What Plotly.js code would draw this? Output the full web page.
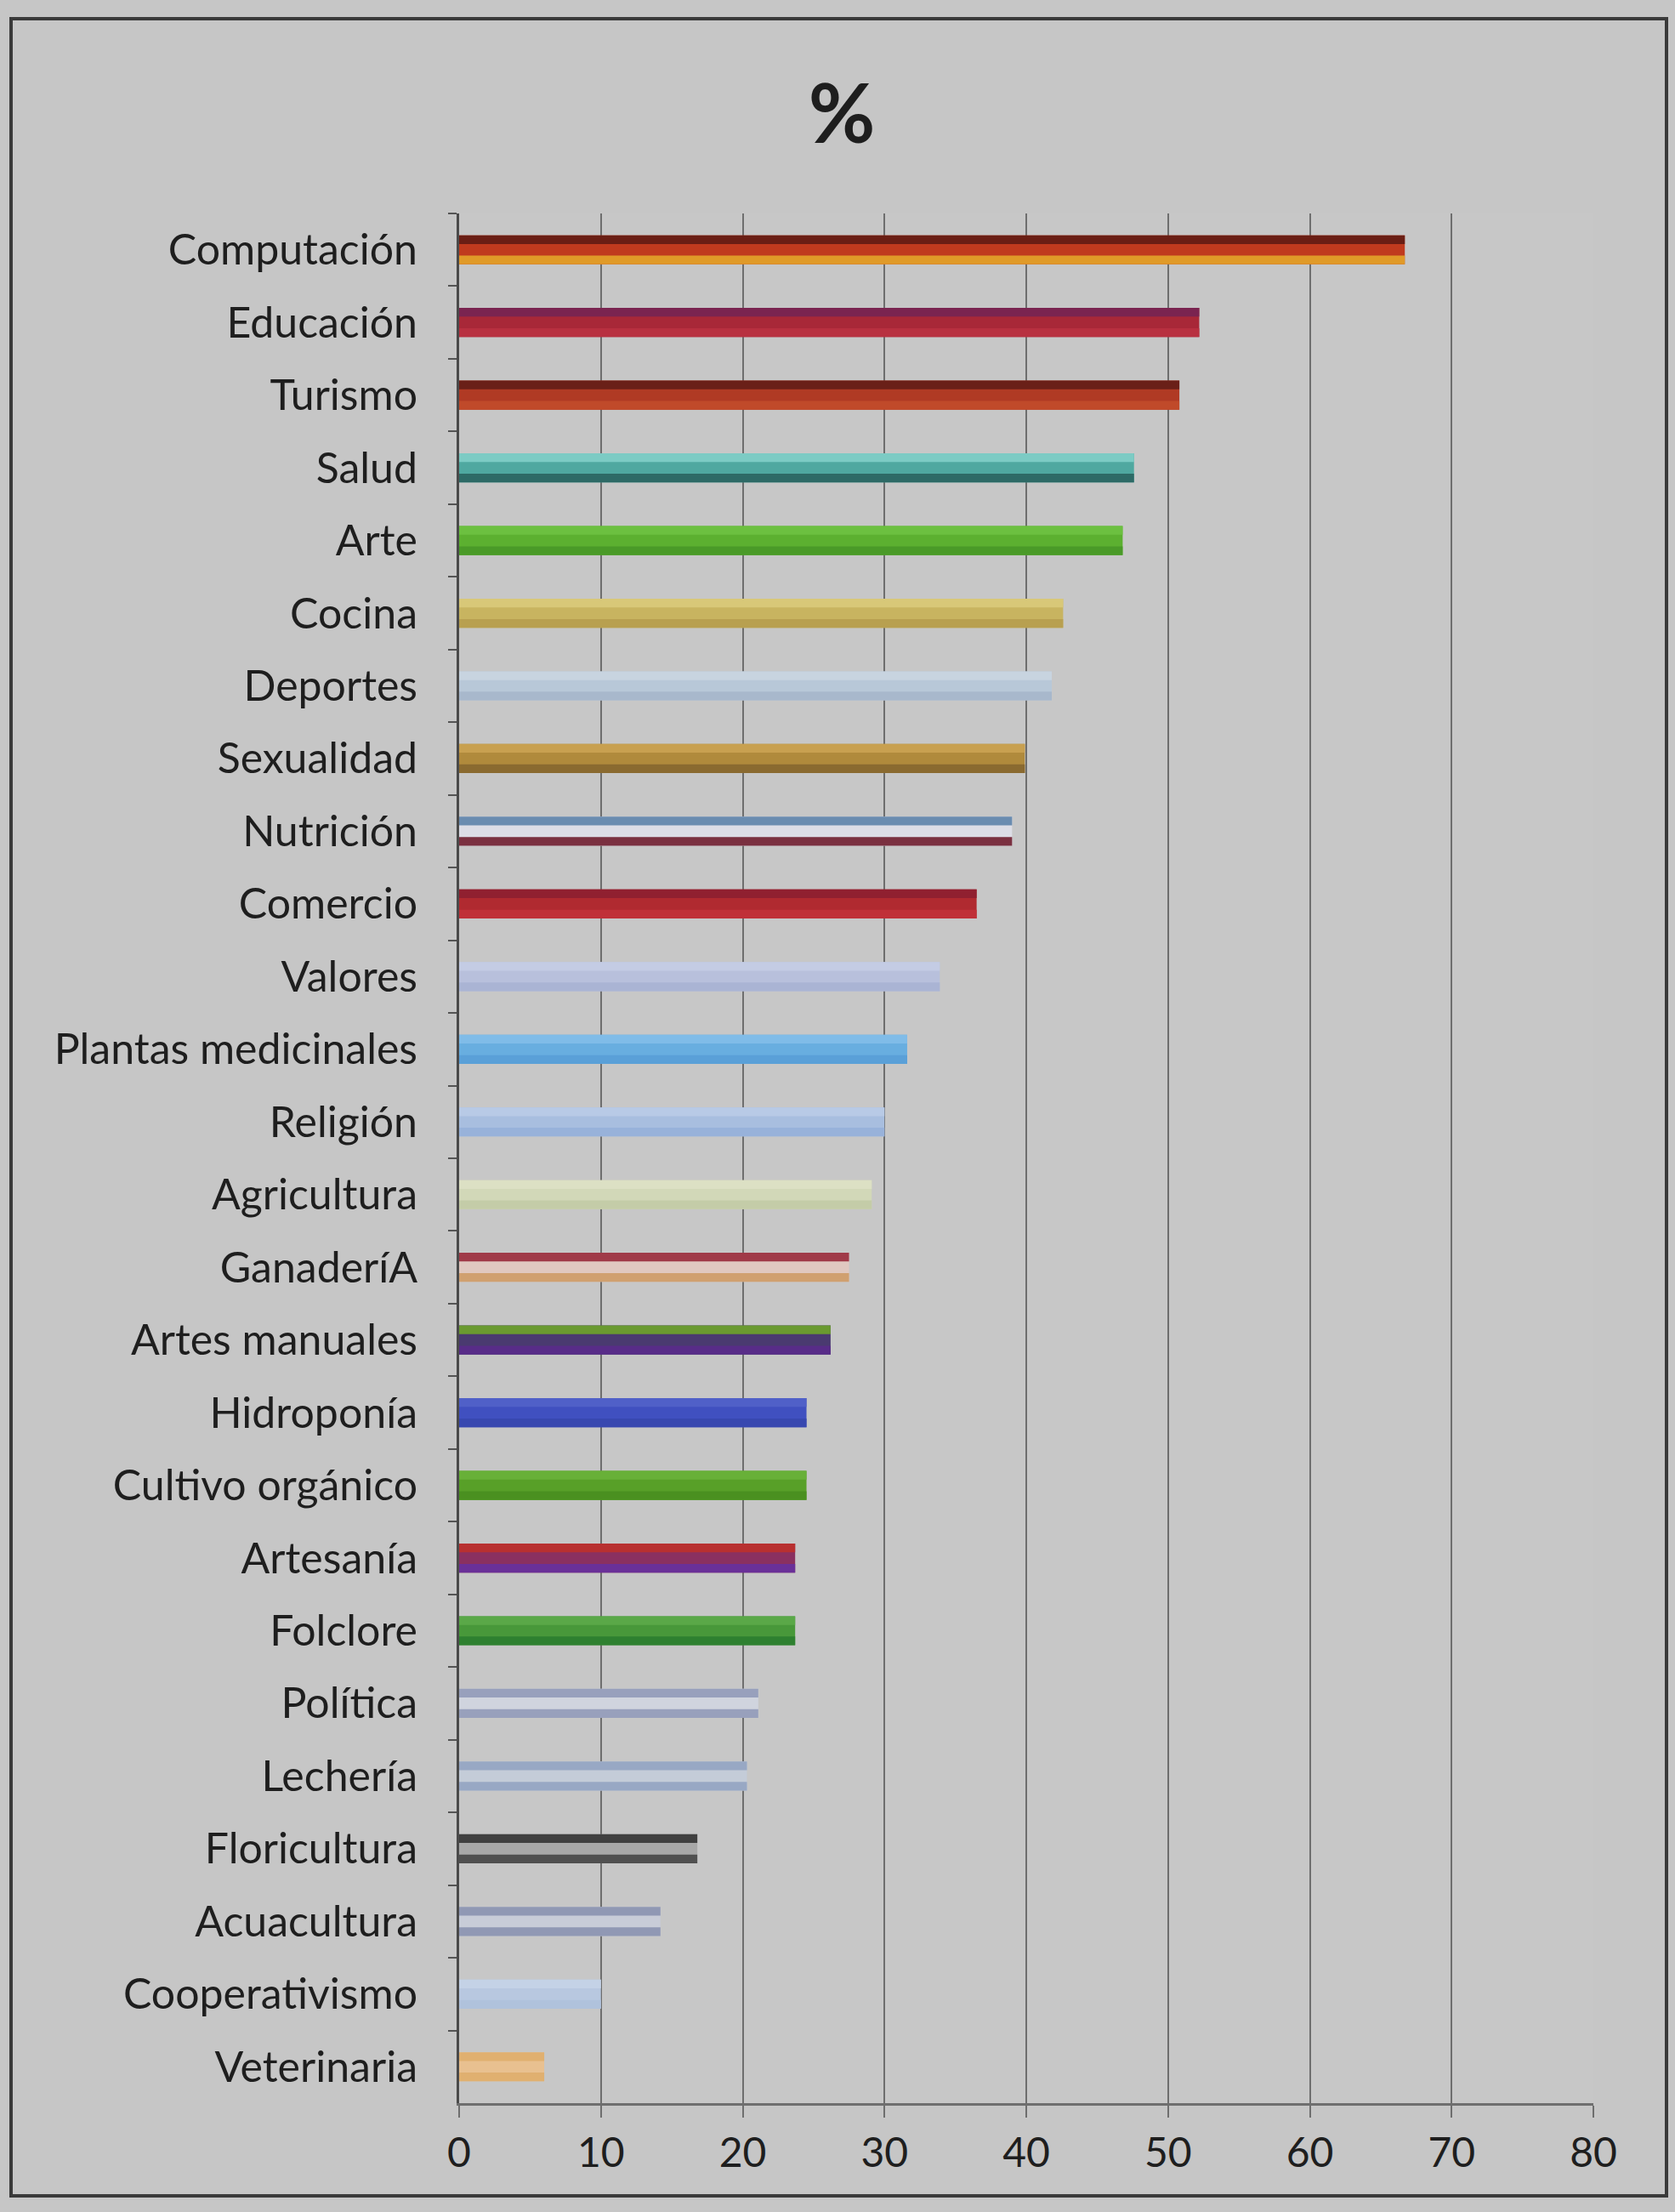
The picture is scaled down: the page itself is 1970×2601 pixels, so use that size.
<!DOCTYPE html>
<html>
<head>
<meta charset="utf-8">
<script src="https://cdn.plot.ly/plotly-3.0.1.min.js"></script>
<style>
  html, body { margin: 0; padding: 0; background: #c6c6c6; }
  #chart { width: 1970px; height: 2601px; }
</style>
</head>
<body>
<div id="chart"></div>
<script>
// ---- data ----
const categories = [
  "Computación", "Educación", "Turismo", "Salud", "Arte", "Cocina", "Deportes",
  "Sexualidad", "Nutrición", "Comercio", "Valores", "Plantas medicinales",
  "Religión", "Agricultura", "GanaderíA", "Artes manuales", "Hidroponía",
  "Cultivo orgánico", "Artesanía", "Folclore", "Política", "Lechería",
  "Floricultura", "Acuacultura", "Cooperativismo", "Veterinaria"
];
const percentValues = [
  66.7, 52.2, 50.8, 47.6, 46.8, 42.6, 41.8,
  39.9, 39.0, 36.5, 33.9, 31.6,
  30.0, 29.1, 27.5, 26.2, 24.5,
  24.5, 23.7, 23.7, 21.1, 20.3,
  16.8, 14.2, 10.0, 6.0
];
const xTickValues = [0, 10, 20, 30, 40, 50, 60, 70, 80];

// ---- styles ----
const baseColors = [
  "#c03a1e", "#a82838", "#b03a24", "#4fa8a0", "#5cb030", "#c8b460", "#b8c8d8",
  "#b08a3c", "#dcdde6", "#b02a30", "#b8c0dc", "#68aee0",
  "#a8bedf", "#d2d8b8", "#e0c8c0", "#4a3a70", "#4050c0",
  "#58a028", "#8a3060", "#48983a", "#d0d4de", "#c4ccd8",
  "#a8a8a8", "#c8ccd8", "#b8c8e0", "#e8c090"
];
const topStripe = [
  "#6a1e14", "#7a2450", "#6a2018", "#7ccbc4", "#6cc040", "#d8c878", "#c8d4e0",
  "#c8a050", "#6a8cb0", "#902030", "#c4cce4", "#80bce8",
  "#b8cae6", "#dce0c4", "#a03a48", "#6a9a30", "#5060c8",
  "#68b038", "#b83030", "#5aa848", "#98a0bc", "#98a8c4",
  "#404040", "#9098b4", "#c4d2e6", "#e0b070"
];
const bottomStripe = [
  "#e09a28", "#b83040", "#c04a2a", "#2d6a66", "#4a9a28", "#b8a050", "#a8b8cc",
  "#8a6a30", "#7a3040", "#c03038", "#aab4d4", "#5aa0d8",
  "#98b2da", "#c4cca8", "#d0a070", "#582c88", "#3848b0",
  "#4a9020", "#6a3098", "#2e8030", "#98a0bc", "#98a8c4",
  "#505050", "#9098b4", "#b0c2dc", "#e0b070"
];

const W = 1970, H = 2601;
const L = 540, R = 96, T = 251, B = 128;
const pw = W - L - R, ph = H - T - B;
const px = v => (v - L) / pw;
const py = v => (H - B - v) / ph;

const common = {
  type: "bar", orientation: "h",
  x: percentValues, y: categories,
  hoverinfo: "x+y", showlegend: false
};
const traces = [
  Object.assign({}, common, { width: 0.4, marker: { color: baseColors, line: { width: 0 } } }),
  Object.assign({}, common, { width: 0.12, offset: -0.2, marker: { color: topStripe, line: { width: 0 } } }),
  Object.assign({}, common, { width: 0.12, offset: 0.08, marker: { color: bottomStripe, line: { width: 0 } } })
];

const layout = {
  width: W, height: H,
  paper_bgcolor: "#c6c6c6",
  plot_bgcolor: "#c7c7c7",
  margin: { l: L, r: R, t: T, b: B },
  barmode: "overlay",
  font: { family: "Lato, 'Open Sans', sans-serif", color: "#1e1e1e" },
  title: {
    text: "<b>%</b>",
    font: { size: 96, family: "Lato, sans-serif", color: "#1e1e1e" },
    x: px(990), xref: "paper", xanchor: "center",
    y: 1 - 134 / H, yref: "container", yanchor: "middle"
  },
  xaxis: {
    range: [0, 80],
    tickvals: xTickValues,
    ticktext: xTickValues.map(String),
    showgrid: true, gridcolor: "#6e6e6e", gridwidth: 2,
    zeroline: false,
    showline: true, linecolor: "#6e6e6e", linewidth: 3,
    ticks: "outside", ticklen: 14, tickcolor: "#6e6e6e", tickwidth: 2,
    tickfont: { size: 48, color: "#1e1e1e" },
    ticklabelstandoff: 0
  },
  yaxis: {
    type: "category",
    autorange: "reversed",
    showgrid: false, zeroline: false,
    showline: true, linecolor: "#4a4a4a", linewidth: 3,
    ticks: "outside", tickson: "boundaries", ticklen: 10, tickcolor: "#555", tickwidth: 2,
    tickfont: { size: 50, color: "#1e1e1e" },
    ticklabelstandoff: 36
  },
  shapes: [{
    type: "rect", xref: "paper", yref: "paper",
    x0: px(13), x1: px(1960), y0: py(2582), y1: py(22),
    line: { color: "#3a3a3a", width: 4 }, fillcolor: "rgba(0,0,0,0)", layer: "below"
  }]
};

Plotly.newPlot("chart", traces, layout, { displayModeBar: false, staticPlot: true });
</script>
</body>
</html>
